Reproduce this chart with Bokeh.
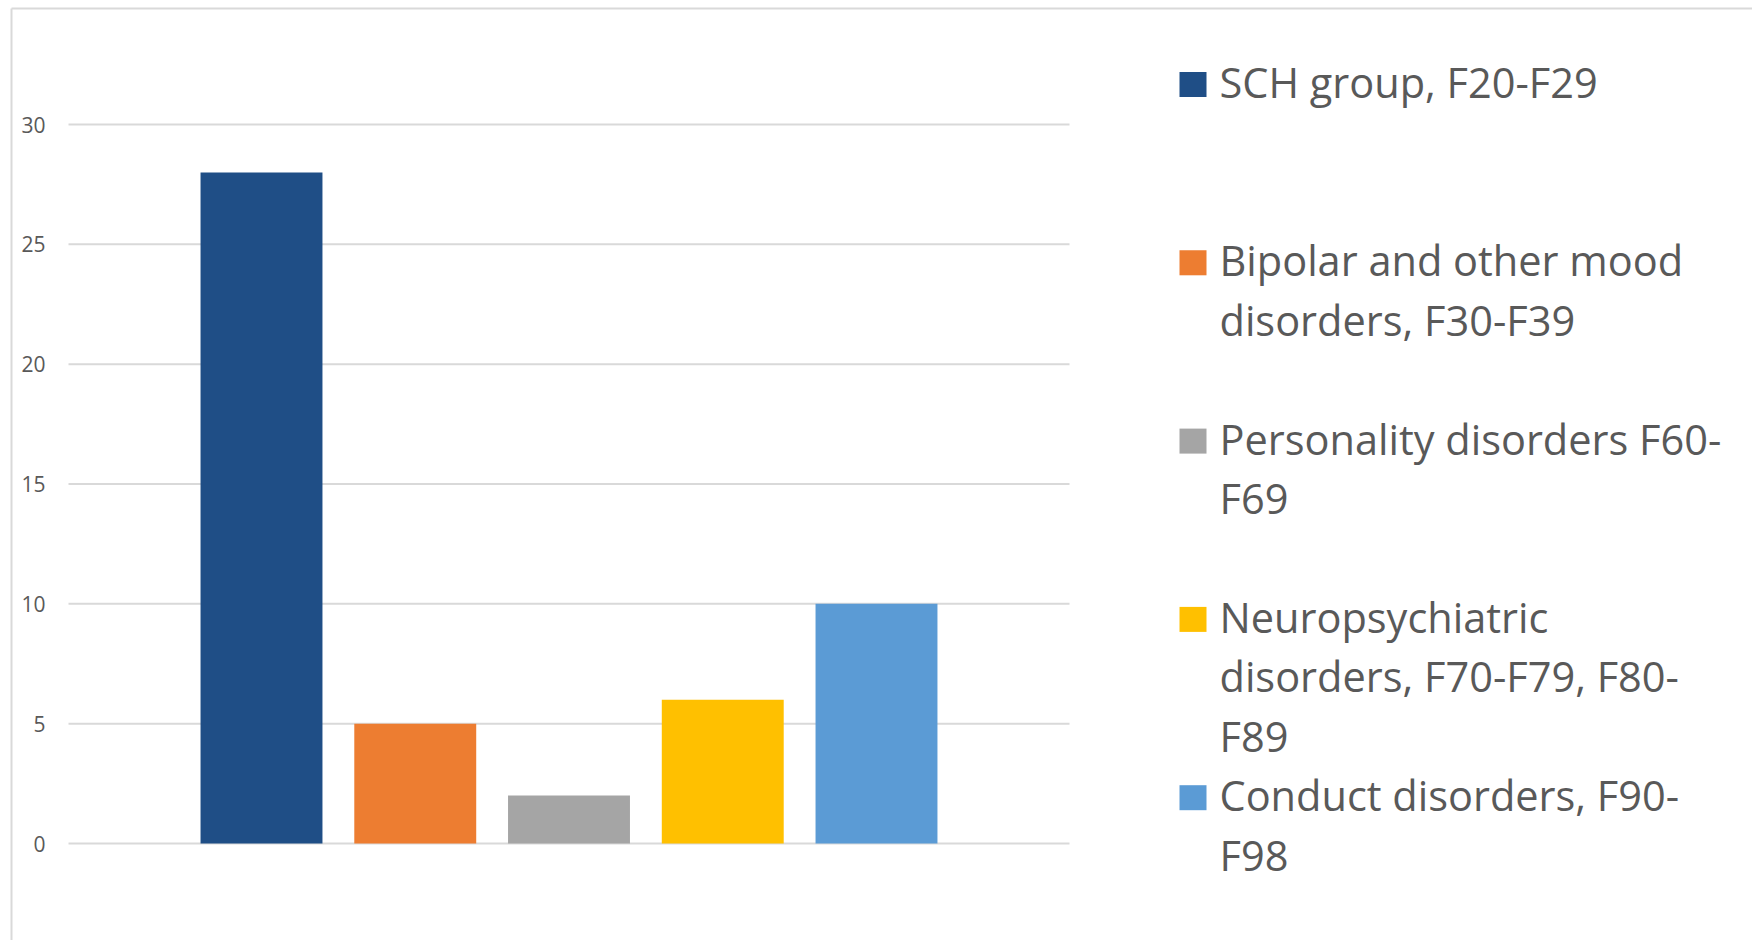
from bokeh.plotting import figure
from bokeh.models import Range1d, ColumnDataSource
from bokeh.core.properties import value
from bokeh.embed import file_html
from bokeh.resources import INLINE

# ---- data ----
series = [
    "SCH group, F20-F29",
    "Bipolar and other mood\ndisorders, F30-F39",
    "Personality disorders F60-\nF69",
    "Neuropsychiatric\ndisorders, F70-F79, F80-\nF89",
    "Conduct disorders, F90-\nF98",
]
values = [28, 5, 2, 6, 10]
colors = ["#1F4E86", "#ED7D31", "#A5A5A5", "#FFC000", "#5B9BD5"]
y_ticks = [0, 5, 10, 15, 20, 25, 30]
y_tick_labels = ["0", "5", "10", "15", "20", "25", "30"]

# ---- layout (canvas pixels) ----
W, H = 1752, 940
PLOT_LEFT, PLOT_RIGHT = 68, 1069
Y0_PX, Y30_PX = 843, 124
BAR_STEP_PX = 153.75
FIRST_BAR_PX = 261
FONT = "Open Sans"
TEXT_COLOR = "#595959"
GRID_COLOR = "#d9d9d9"

sy = (Y0_PX - Y30_PX) / 30.0
y_start = -(H - Y0_PX) / sy
y_end = 30 + Y30_PX / sy
x_start = -FIRST_BAR_PX / BAR_STEP_PX
x_end = x_start + W / BAR_STEP_PX

p = figure(width=W, height=H, output_backend="svg", toolbar_location=None,
           x_range=Range1d(x_start, x_end), y_range=Range1d(y_start, y_end),
           x_axis_location=None, y_axis_location=None,
           min_border_left=0, min_border_right=0, min_border_top=0, min_border_bottom=0,
           background_fill_color="white", border_fill_color="white")
p.title.visible = False
p.outline_line_color = None
p.xgrid.visible = False
p.ygrid.visible = False
p.extra_x_ranges = {"px": Range1d(0, W)}
p.extra_y_ranges = {"px": Range1d(H, 0)}

# chart border (left and top edges)
p.segment(x0=[11, 11], x1=[11, W], y0=[8, 8], y1=[H, 8], x_range_name="px", y_range_name="px",
          line_color=GRID_COLOR, line_width=2)

# horizontal gridlines across the plot area, and value labels
n = len(y_ticks)
p.segment(x0=[PLOT_LEFT] * n, x1=[PLOT_RIGHT] * n, y0=y_ticks, y1=y_ticks,
          x_range_name="px", line_color=GRID_COLOR, line_width=2)
p.text(x=[PLOT_LEFT - 23] * n, y=y_ticks, text=y_tick_labels, x_range_name="px",
       text_font=value(FONT), text_font_size=value("21px"), text_color=TEXT_COLOR,
       text_align="right", text_baseline="middle")

# bars
src = ColumnDataSource(dict(x=list(range(len(series))), top=values, color=colors, name=series))
p.vbar(x="x", top="top", bottom=0, width=0.793, color="color", source=src, line_color=None)

# legend
first_cy = 84
entry_step = 178.3
line_step = 59.5
sw = dict(left=[], right=[], top=[], bottom=[], color=[])
tx = dict(x=[], y=[], text=[])
for i, (name, col) in enumerate(zip(series, colors)):
    cy = first_cy + entry_step * i
    sw["left"].append(1179); sw["right"].append(1206)
    sw["top"].append(cy - 12.5); sw["bottom"].append(cy + 12.5)
    sw["color"].append(col)
    for j, line in enumerate(name.split("\n")):
        tx["x"].append(1219); tx["y"].append(cy - 2.5 + j * line_step); tx["text"].append(line)

p.quad(left="left", right="right", top="top", bottom="bottom", color="color",
       source=ColumnDataSource(sw), x_range_name="px", y_range_name="px", line_color=None)
p.text(x="x", y="y", text="text", source=ColumnDataSource(tx), x_range_name="px", y_range_name="px",
       text_font=value(FONT), text_font_size=value("41.5px"), text_color=TEXT_COLOR,
       text_baseline="middle", text_align="left")

open("out.html", "w").write(file_html(p, INLINE))
